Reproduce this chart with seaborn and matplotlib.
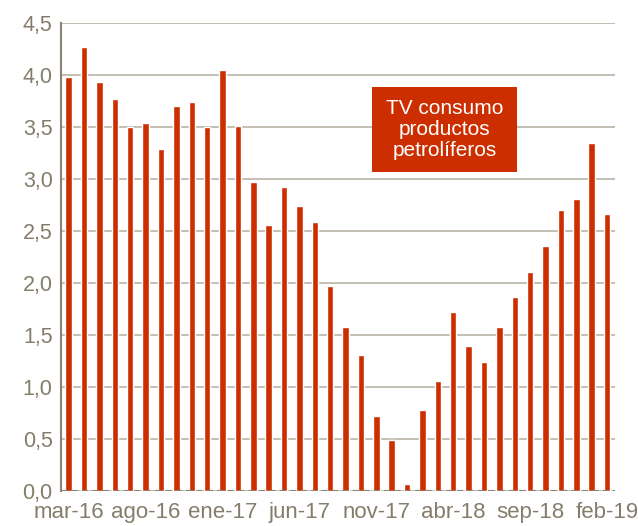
import matplotlib
matplotlib.use("Agg")
import matplotlib.pyplot as plt
import matplotlib.patches as mpatches
from matplotlib.ticker import FuncFormatter, MultipleLocator
import pandas as pd
import seaborn as sns

# monthly values, mar-16 .. feb-19
months = ["mar-16", "abr-16", "may-16", "jun-16", "jul-16", "ago-16", "sep-16", "oct-16",
          "nov-16", "dic-16", "ene-17", "feb-17", "mar-17", "abr-17", "may-17", "jun-17",
          "jul-17", "ago-17", "sep-17", "oct-17", "nov-17", "dic-17", "ene-18", "feb-18",
          "mar-18", "abr-18", "may-18", "jun-18", "jul-18", "ago-18", "sep-18", "oct-18",
          "nov-18", "dic-18", "ene-19", "feb-19"]
values = [3.98, 4.27, 3.93, 3.77, 3.50, 3.54, 3.29, 3.70,
          3.74, 3.50, 4.05, 3.51, 2.97, 2.56, 2.92, 2.74,
          2.59, 1.97, 1.58, 1.31, 0.72, 0.49, 0.07, 0.78,
          1.06, 1.72, 1.39, 1.24, 1.58, 1.87, 2.11, 2.36,
          2.70, 2.81, 3.35, 2.66]
shown_labels = ["mar-16", "ago-16", "ene-17", "jun-17", "nov-17", "abr-18", "sep-18", "feb-19"]
box_text = "TV consumo\nproductos\npetrolíferos"

bar_color = "#CC2E00"
text_color = "#857D6C"
grid_color = "#C4BFB2"

sns.set_style("white")
plt.rcParams['font.family'] = ['Liberation Sans', 'DejaVu Sans']

df = pd.DataFrame({"mes": months, "tv": values})

fig = plt.figure(figsize=(6.38, 5.26), dpi=100)
ax = fig.add_axes([0.0956, 0.0665, 0.868, 0.8898])

sns.barplot(data=df, x="mes", y="tv", color=bar_color, saturation=1,
            width=0.42, ax=ax, zorder=3)

ax.set_ylim(0, 4.5)
ax.set_xlim(-0.5, len(months) - 0.5)
ax.yaxis.set_major_locator(MultipleLocator(0.5))
ax.yaxis.set_major_formatter(FuncFormatter(lambda v, p: f"{v:.1f}".replace(".", ",")))
ax.grid(True, axis="y", color=grid_color, linewidth=1.4, zorder=0)
ax.grid(False, axis="x")

ticks = [months.index(m) for m in shown_labels]
ax.set_xticks(ticks)
ax.set_xticklabels(shown_labels)
ax.tick_params(axis="x", length=0, labelsize=16, labelcolor=text_color, pad=8)
ax.tick_params(axis="y", length=0, labelsize=15.5, labelcolor=text_color, pad=6)
ax.set_xlabel("")
ax.set_ylabel("")

for s in ["top", "right", "bottom"]:
    ax.spines[s].set_visible(False)
ax.spines["left"].set_color("#8A8273")
ax.spines["left"].set_linewidth(1.5)
ax.axhline(0, color="#8A8273", linewidth=1.5, linestyle=(0, (3, 2)), zorder=4)

# label box
fig.patches.append(mpatches.Rectangle((0.583, 0.673), 0.227, 0.1616,
                                      transform=fig.transFigure, facecolor="#CC2E00",
                                      edgecolor="none", zorder=5))
fig.text(0.6965, 0.754, box_text, ha="center", va="center", color="white",
         fontsize=15, linespacing=1.12, zorder=6)

fig.savefig("out.png", dpi=100)
